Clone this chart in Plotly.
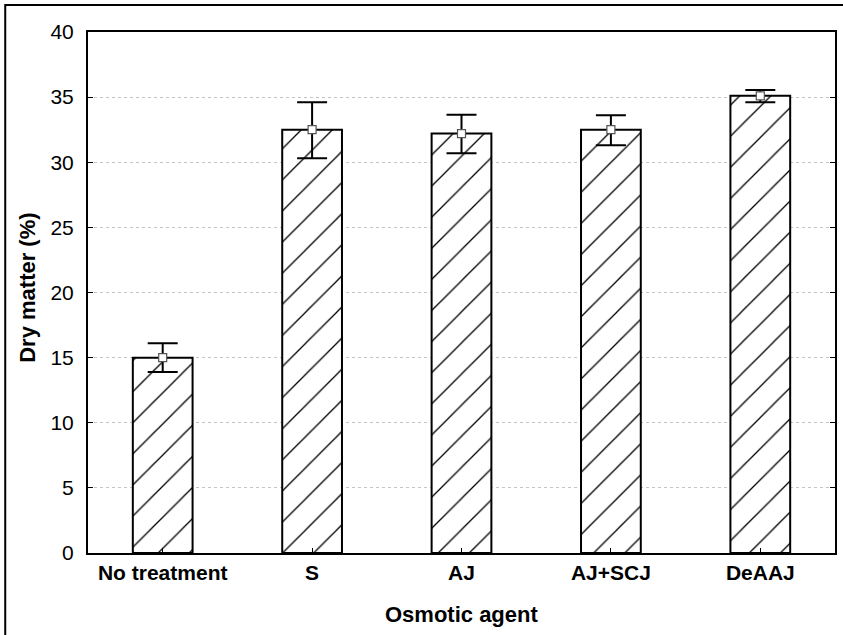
import plotly.graph_objects as go

categories = ["No treatment", "S", "AJ", "AJ+SCJ", "DeAAJ"]
dry_matter = [15.0, 32.5, 32.2, 32.5, 35.1]
error_plus = [1.1, 2.1, 1.45, 1.1, 0.45]
error_minus = [1.1, 2.2, 1.5, 1.2, 0.5]
y_ticks = [0, 5, 10, 15, 20, 25, 30, 35, 40]

FONT = "Liberation Sans, Arial, sans-serif"

fig = go.Figure()
fig.add_trace(go.Bar(
    x=categories, y=dry_matter, width=0.4,
    marker=dict(color="white", line=dict(color="black", width=2),
                pattern=dict(shape="/", fgcolor="black", bgcolor="white",
                             fgopacity=1, size=22, solidity=0.06)),
    showlegend=False,
))
fig.add_trace(go.Scatter(
    x=categories, y=dry_matter, mode="markers",
    marker=dict(symbol="square", size=8, color="white",
                line=dict(color="#555555", width=1.2)),
    error_y=dict(type="data", symmetric=False, array=error_plus,
                 arrayminus=error_minus, color="black", thickness=2, width=15),
    showlegend=False,
))

fig.update_layout(
    width=843, height=635,
    margin=dict(l=88, r=6, t=32, b=82),
    paper_bgcolor="white", plot_bgcolor="white",
    font=dict(family=FONT, color="black", size=21),
    bargap=0.6,
)
fig.update_xaxes(
    showline=True, linecolor="black", linewidth=2, mirror=True,
    ticks="inside", ticklen=5, tickcolor="black",
    tickfont=dict(family=FONT, size=21, weight="bold"),
    showgrid=False,
)
fig.update_yaxes(
    range=[0, 40], tickvals=y_ticks,
    showline=True, linecolor="black", linewidth=2, mirror="ticks",
    ticks="inside", ticklen=5, tickcolor="black",
    tickfont=dict(family=FONT, size=21),
    showgrid=True, gridcolor="#c4c4c4", griddash="dot", gridwidth=1,
    zeroline=False, ticklabelstandoff=8,
)
fig.add_annotation(text="<b>Dry matter (%)</b>", xref="paper", yref="paper",
                   x=-0.081, y=0.51, textangle=-90, showarrow=False,
                   font=dict(family=FONT, size=22), xanchor="center", yanchor="middle")
fig.add_annotation(text="<b>Osmotic agent</b>", xref="paper", yref="paper",
                   x=0.5, y=-0.118, showarrow=False,
                   font=dict(family=FONT, size=22), xanchor="center", yanchor="middle")
# outer frame (left and top edges)
fig.add_shape(type="path", xref="paper", yref="paper",
              path="M -0.1108,-0.2 L -0.1108,1.0518 L 1.2,1.0518",
              line=dict(color="black", width=2))

fig.write_html("out.html", config={"displayModeBar": False},
               post_script="document.body.style.margin='0';document.body.style.overflow='hidden';")
